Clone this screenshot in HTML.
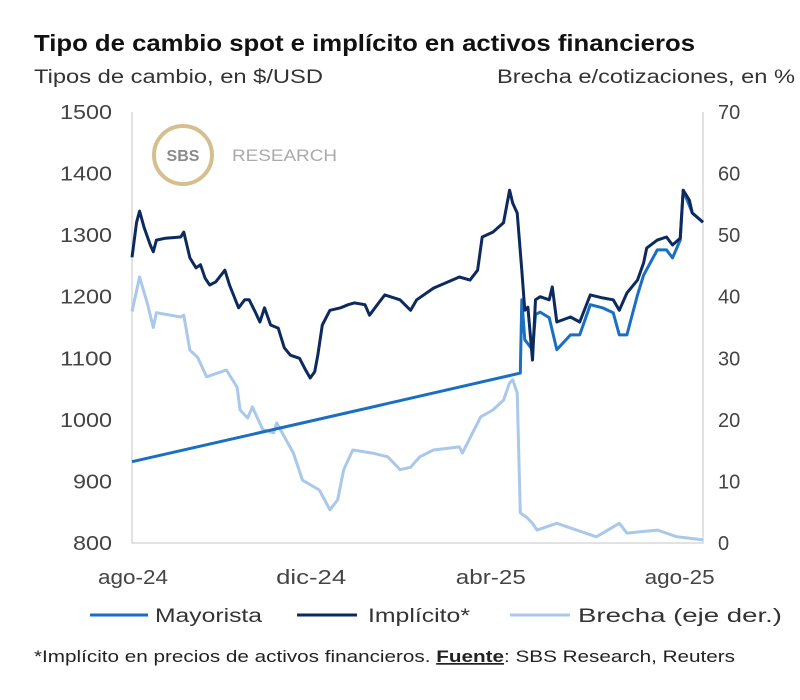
<!DOCTYPE html>
<html><head><meta charset="utf-8"><style>
body{margin:0;background:#fff;font-family:"Liberation Sans",sans-serif;}
svg text{font-family:"Liberation Sans",sans-serif;}
</style></head><body>
<svg width="800" height="695" viewBox="0 0 800 695">
<text x="34" y="51" font-size="23" font-weight="bold" fill="#111" textLength="661" lengthAdjust="spacingAndGlyphs">Tipo de cambio spot e implícito en activos financieros</text>
<text x="34" y="83" font-size="19" fill="#333" textLength="289" lengthAdjust="spacingAndGlyphs">Tipos de cambio, en $/USD</text>
<text x="497" y="83" font-size="19" fill="#333" textLength="298" lengthAdjust="spacingAndGlyphs">Brecha e/cotizaciones, en %</text>
<g>
<circle cx="183" cy="155" r="29" fill="none" stroke="#d6bf8e" stroke-width="4"/>
<text x="183" y="161" font-size="16" font-weight="bold" fill="#8a8a8a" text-anchor="middle">SBS</text>
<text x="232" y="161" font-size="17" fill="#aaa" textLength="105" lengthAdjust="spacingAndGlyphs">RESEARCH</text>
</g>
<g id="axes"></g>
<g id="series"></g>
<g>
<line x1="90" y1="615" x2="148" y2="615" stroke="#1a6fc0" stroke-width="3"/>
<text x="155" y="622" font-size="19" fill="#333" textLength="107" lengthAdjust="spacingAndGlyphs">Mayorista</text>
<line x1="297" y1="615" x2="357" y2="615" stroke="#0d2a5e" stroke-width="3"/>
<text x="368" y="622" font-size="19" fill="#333" textLength="102" lengthAdjust="spacingAndGlyphs">Implícito*</text>
<line x1="510" y1="615" x2="570" y2="615" stroke="#a9c8ea" stroke-width="3"/>
<text x="578" y="622" font-size="19" fill="#333" textLength="204" lengthAdjust="spacingAndGlyphs">Brecha (eje der.)</text>
</g>
<text x="34" y="662" font-size="17" fill="#222" textLength="701" lengthAdjust="spacingAndGlyphs">*Implícito en precios de activos financieros. <tspan font-weight="bold" text-decoration="underline">Fuente</tspan>: SBS Research, Reuters</text>
</svg>
<script>
const leftTicks=[800,900,1000,1100,1200,1300,1400,1500];
const rightTicks=[0,10,20,30,40,50,60,70];
const xTickLabels=["ago-24","dic-24","abr-25","ago-25"];
const xTickDays=[0,117,235,359];
const implicitoDays=[0,3,5,8,12,14,16,22,32,34,38,42,45,48,51,55,61,64,70,74,77,81,84,87,91,96,100,104,110,114,117,120,122,125,130,137,142,146,153,156,162,166,176,183,187,198,215,222,227,230,237,244,248,250,253,256,258,260,263,265,268,274,276,279,288,294,301,309,316,320,325,332,336,338,345,351,355,360,362,366,368,375];
const implicitoValues=[1264,1321,1339,1312,1284,1273,1292,1295,1297,1305,1263,1247,1252,1230,1219,1224,1243,1219,1182,1195,1195,1175,1159,1182,1154,1149,1117,1105,1100,1081,1068,1078,1105,1154,1178,1182,1187,1190,1187,1170,1190,1203,1195,1178,1195,1214,1232,1227,1243,1297,1305,1320,1373,1352,1336,1243,1178,1183,1097,1195,1200,1195,1216,1159,1167,1159,1203,1198,1195,1178,1206,1227,1255,1279,1292,1297,1284,1295,1373,1357,1336,1321];
const mayoristaDays=[0,128,255,256,258,263,265,268,274,279,288,294,301,309,316,320,325,332,336,345,351,355,360,362,368,375];
const mayoristaValues=[932,1004,1076,1195,1130,1114,1171,1175,1166,1114,1138,1138,1187,1182,1174,1138,1138,1203,1235,1276,1276,1263,1292,1373,1336,1321];
const brechaDays=[0,5,10,14,16,32,34,38,43,49,62,69,71,76,79,86,93,95,106,112,123,130,135,139,145,158,168,176,183,189,198,215,217,229,237,244,248,250,253,255,259,263,266,279,292,305,320,325,345,358,375];
const brechaValues=[37.6,43.2,39,35,37.4,36.7,37,31.3,30.2,27,28.1,25.3,21.6,20.3,22.1,18.4,17.9,19.5,14.6,10.2,8.6,5.4,7.0,11.9,15.1,14.6,14,11.9,12.3,14,15.1,15.6,14.6,20.5,21.6,23.2,26,26.5,24.4,4.9,4.2,3.2,2.1,3.2,2.1,1.0,3.2,1.6,2.1,1.0,0.5];

const X0=132,X1=703,Y0=543,Y1=112,DMAX=375;
const xs=d=>X0+(X1-X0)*d/DMAX;
const yl=v=>Y0-(Y0-Y1)*(v-800)/700;
const yr=v=>Y0-(Y0-Y1)*v/70;
const NS="http://www.w3.org/2000/svg";
const axes=document.getElementById('axes'),ser=document.getElementById('series');
function mk(tag,attrs,parent){const e=document.createElementNS(NS,tag);for(const k in attrs)e.setAttribute(k,attrs[k]);parent.appendChild(e);return e;}
let e;
e=mk('path',{d:`M${X0},${Y1}V${Y0}H${X1}V${Y1}`,fill:'none',stroke:'#d9d9d9','stroke-width':1.5},axes);


leftTicks.forEach(v=>{const t=mk('text',{x:112,y:yl(v)+7,'font-size':20,fill:'#444','text-anchor':'end',textLength:52,lengthAdjust:'spacingAndGlyphs'},axes);t.textContent=v;
if(v<1000){t.setAttribute('textLength',39);}

});
rightTicks.forEach(v=>{const t=mk('text',{x:718,y:yr(v)+7,'font-size':20,fill:'#444'},axes);t.textContent=v;

});
xTickLabels.forEach((l,i)=>{const t=mk('text',{x:xs(xTickDays[i])+1,y:584,'font-size':20,fill:'#444','text-anchor':'middle',textLength:70,lengthAdjust:'spacingAndGlyphs'},axes);t.textContent=l;

});
function line(days,vals,yf,color,name){const d=days.map((dd,i)=>(i?'L':'M')+xs(dd).toFixed(1)+','+yf(vals[i]).toFixed(1)).join('');
const p=mk('path',{d,fill:'none',stroke:color,'stroke-width':3,'stroke-linejoin':'round'},ser);

}
line(brechaDays,brechaValues,yr,'#a9c8ea','brecha-line');
line(mayoristaDays,mayoristaValues,yl,'#1a6fc0','mayorista-line');
line(implicitoDays,implicitoValues,yl,'#0d2a5e','implicito-line');
</script>
</body></html>
